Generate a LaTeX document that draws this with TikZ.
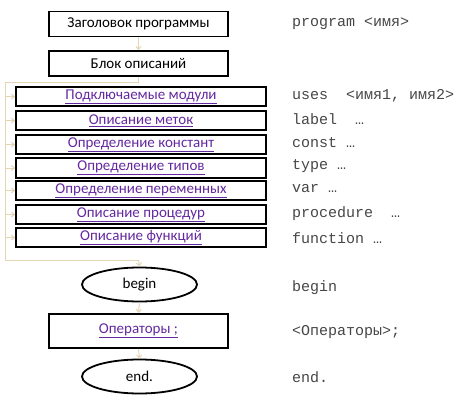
\documentclass[tikz,border=0pt]{standalone}
\usepackage{fontspec}
\setmainfont{Carlito}
\newfontfamily\codefont{Liberation Mono}
\usetikzlibrary{shapes.geometric,arrows.meta}
\definecolor{conn}{RGB}{228,214,180}
\definecolor{linkc}{RGB}{100,40,160}
\definecolor{codec}{RGB}{70,70,70}
\tikzset{
  mainbox/.style={draw=black,line width=1.8pt,minimum width=179pt,minimum height=25pt,inner sep=0pt,font=\fontsize{15}{17}\selectfont},
  subbox/.style={draw=black,line width=1.8pt,minimum width=250pt,minimum height=19.5pt,inner sep=0pt,font=\fontsize{15}{17}\selectfont\color{linkc}},
  oval/.style={draw=black,line width=1.8pt,ellipse,minimum width=115pt,minimum height=34pt,inner sep=0pt,font=\fontsize{15}{17}\selectfont},
  conline/.style={draw=conn,line width=1pt},
  conarrow/.style={conline,-{Straight Barb[length=3pt,width=5pt]}},
  code/.style={anchor=west,inner sep=0pt,font=\codefont\fontsize{15}{17}\selectfont\color{codec}}
}
\newcommand{\ul}[1]{\underline{#1}}
\begin{document}
\begin{tikzpicture}[x=1pt,y=-1pt]
\useasboundingbox (0,0) rectangle (464,402);
% main column
\node[mainbox] (head) at (138.5,24) {Заголовок программы};
\node[mainbox] (block) at (138.5,63.5) {Блок описаний};
\node[subbox] (s1) at (141,96.5) {\ul{Подключаемые модули}};
\node[subbox] (s2) at (141,120.5) {\ul{Описание меток}};
\node[subbox] (s3) at (141,144.5) {\ul{Определение констант}};
\node[subbox] (s4) at (141,168) {\ul{Определение типов}};
\node[subbox] (s5) at (141,190.5) {\ul{Определение переменных}};
\node[subbox] (s6) at (141,214.5) {\ul{Описание процедур}};
\node[subbox] (s7) at (141,237.5) {\ul{Описание функций}};
\node[oval] (begin) at (139.5,284.5) {begin};
\node[mainbox,minimum height=34pt,font=\fontsize{15}{17}\selectfont\color{linkc}] (ops) at (138.5,331) {\ul{Операторы ;}};
\node[oval] (end) at (139.5,376.5) {end.};
% connectors
\coordinate (bl) at (5,82);
\coordinate (tl) at (5,260);
\coordinate (tm) at (138.5,260);
\draw[conarrow] (head.south) -- (block.north);
\draw[conline] (block.south) |- (bl) -- (tl) -- (tm);
\draw[conarrow] (tm) -- (begin.north);
\foreach \s in {s1,s2,s3,s4,s5,s6,s7}{
  \draw[conarrow] (bl |- \s.west) -- (\s.west);
}
\draw[conarrow] (begin.south) -- (ops.north);
\draw[conarrow] (ops.south) -- (end.north);
% code column
\node[code] (c0) at (292,24) {program <имя>};
\node[code] (c1) at (292,96) {uses~ <имя1, имя2>};
\node[code] (c2) at (292,119.5) {label ~…};
\node[code] (c3) at (292,143) {const …};
\node[code] (c4) at (292,166) {type …};
\node[code] (c5) at (292,189) {var …};
\node[code] (c6) at (292,213.5) {procedure ~…};
\node[code] (c7) at (292,238) {function …};
\node[code] (c8) at (292,288) {begin};
\node[code] (c9) at (292,332.5) {<Операторы>;};
\node[code] (c10) at (292,377.5) {end.};
\end{tikzpicture}
\end{document}
